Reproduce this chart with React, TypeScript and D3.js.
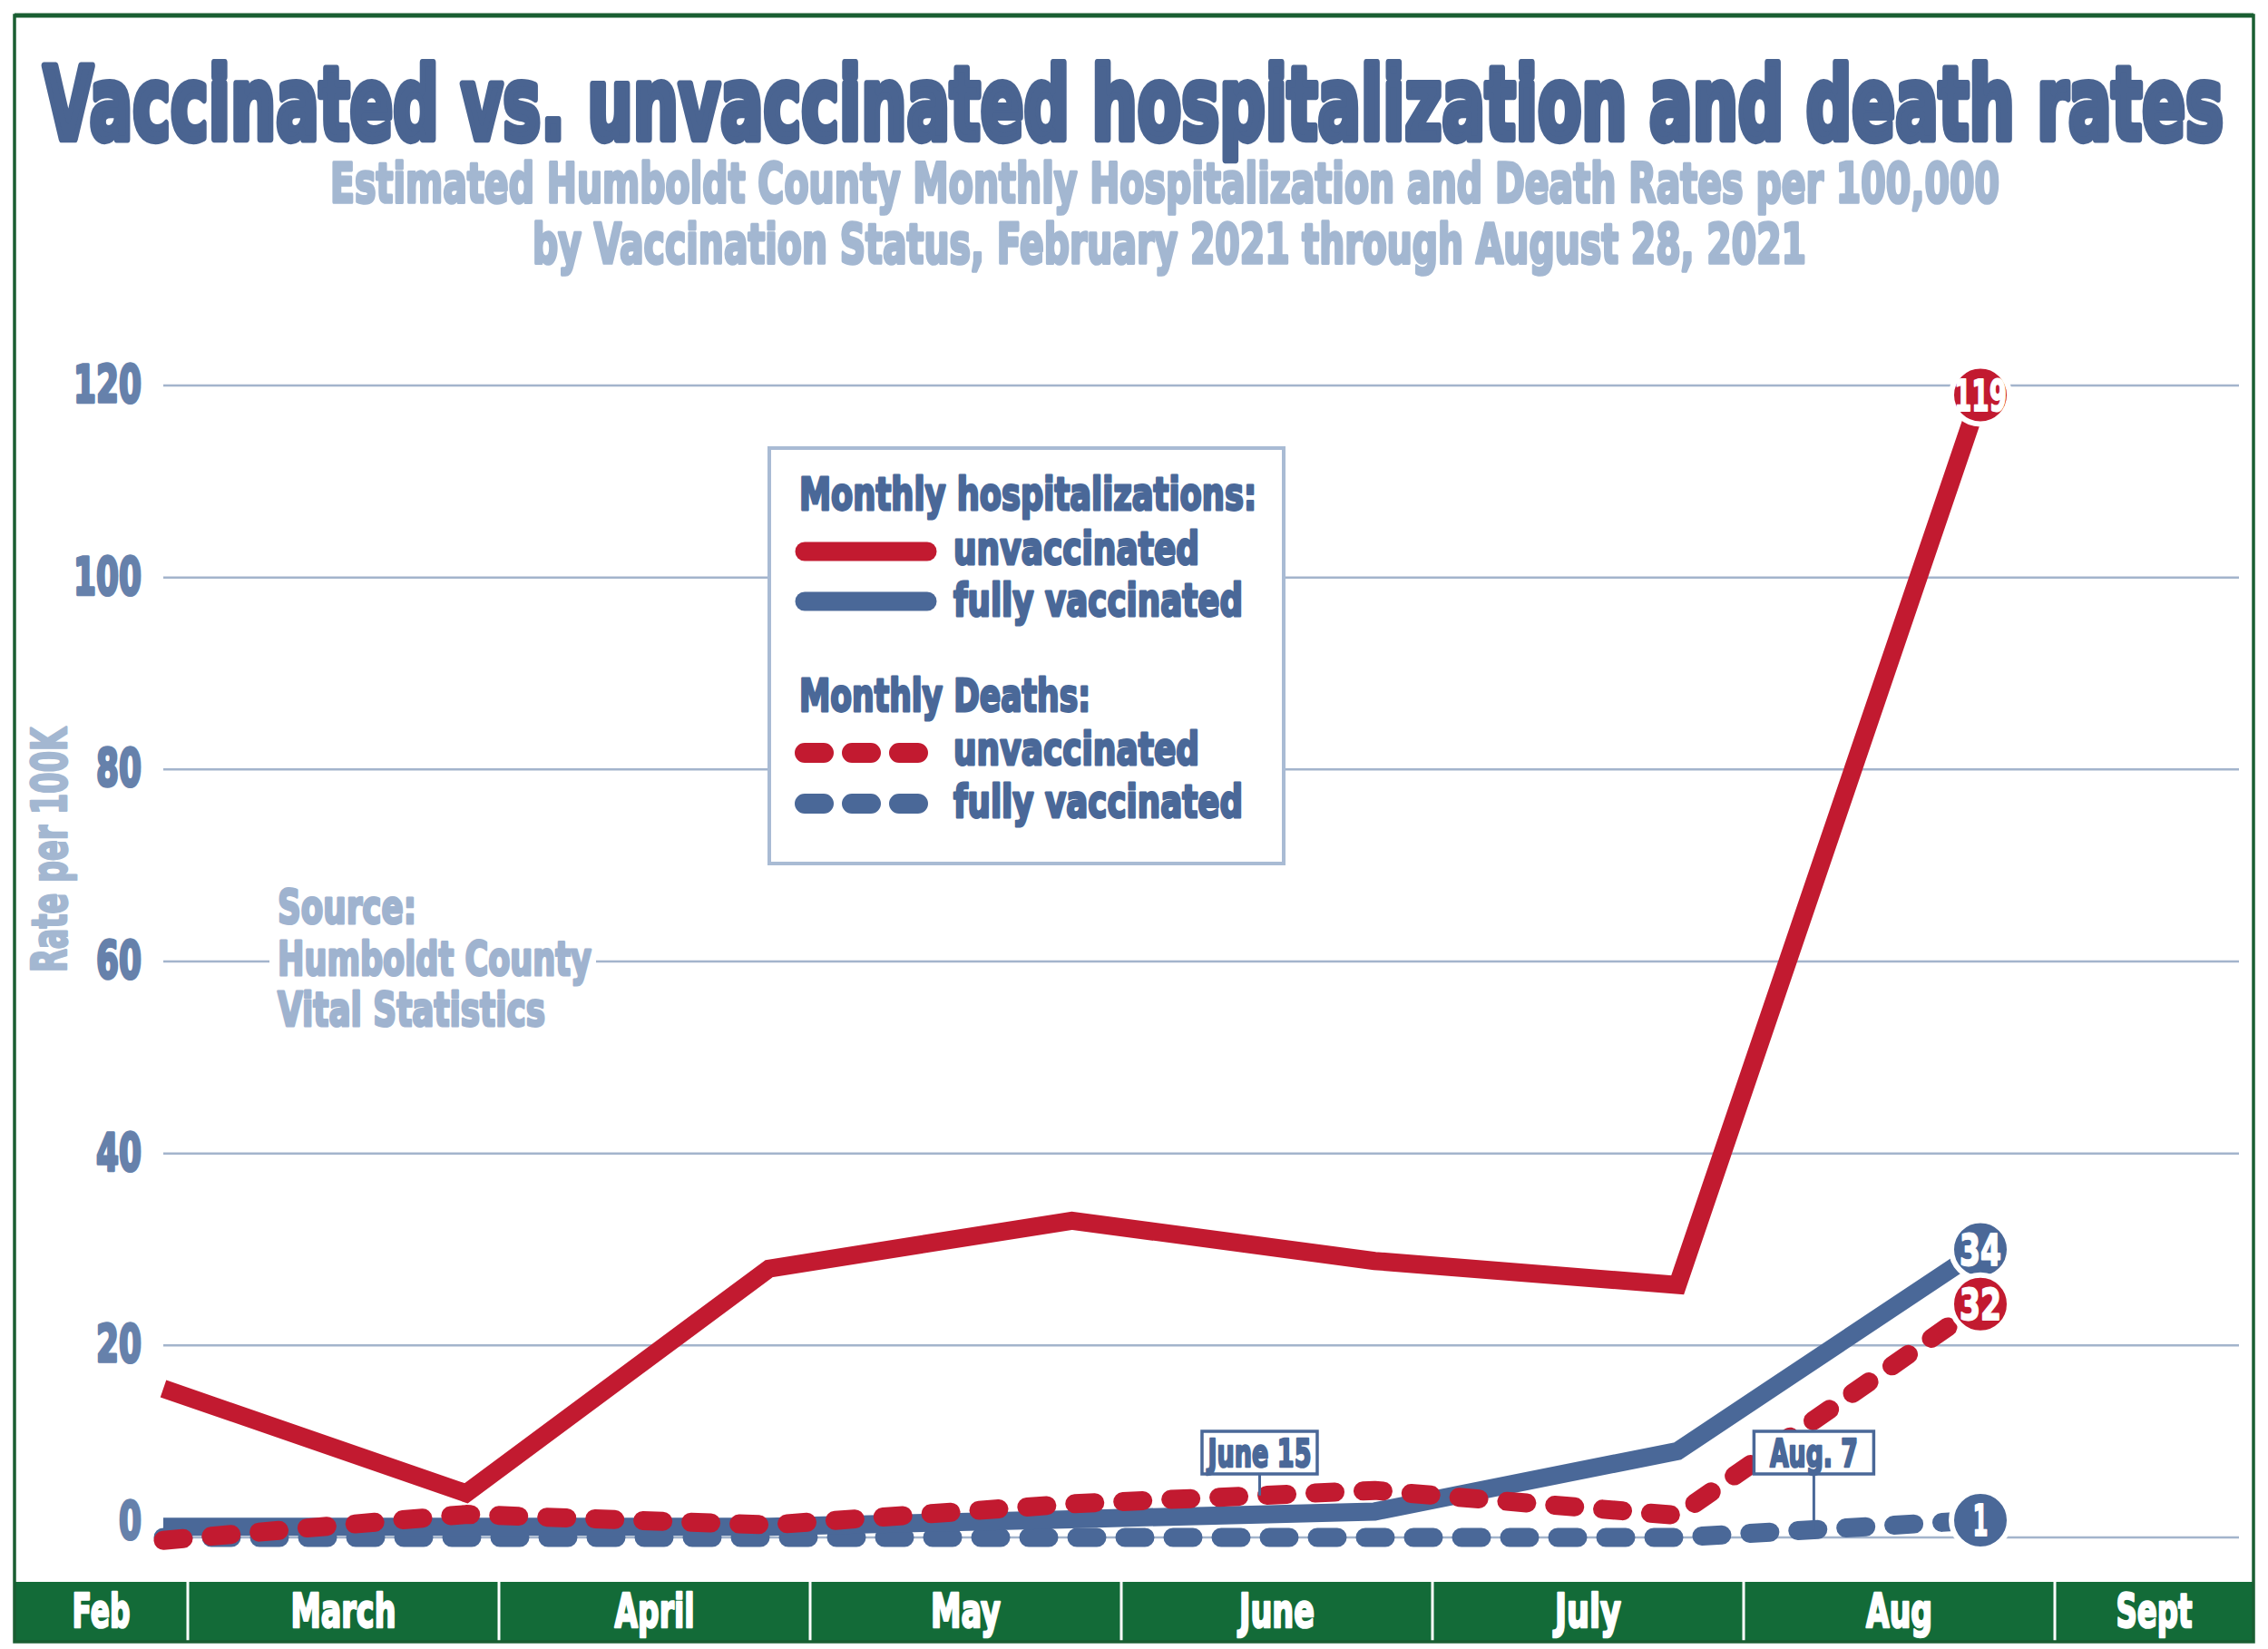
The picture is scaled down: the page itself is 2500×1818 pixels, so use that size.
import React from "react";
import * as d3 from "d3";

// ---------- data ----------
const dataMonths = ["Feb", "March", "April", "May", "June", "July", "Aug"];
const axisMonths = ["Feb", "March", "April", "May", "June", "July", "Aug", "Sept"];
const hospUnvax = [15.5, 4.6, 28, 33, 28.8, 26.3, 119];
const hospVax = [1.1, 1.1, 1.1, 1.9, 2.7, 9, 30];
const deathUnvax = [-0.3, 2.4, 1.3, 3.5, 4.9, 2.3, 24.3];
const deathVax = [0, 0, 0, 0, 0, 0, 1.8];
const endLabels = ["119", "34", "32", "1"]; // hospUnvax, hospVax, deathUnvax, deathVax
const yTicks = [0, 20, 40, 60, 80, 100, 120];
const annotationLabels = ["June 15", "Aug. 7"];
const annotationAt = [3.62, 5.45]; // position in month index
const annotationSeries = ["deathUnvax", "deathVax"];

const TITLE = "Vaccinated vs. unvaccinated hospitalization and death rates";
const SUB1 = "Estimated Humboldt County Monthly Hospitalization and Death Rates per 100,000";
const SUB2 = "by Vaccination Status,  February 2021 through August 28, 2021";
const SOURCE = ["Source:", "Humboldt County", "Vital Statistics"];

// ---------- style ----------
const RED = "#c21a30";
const BLUE = "#4a6898";
const TITLE_BLUE = "#4a6491";
const TICK_BLUE = "#6681ab";
const LIGHT = "#a3b7d1";
const GRID = "#a3b4cc";
const GREEN = "#136b38";
const FRAME = "#1a5e32";
const FONT = "'DejaVu Sans', 'Liberation Sans', Arial, sans-serif";

const monthLabelW: Record<string, number> = { Feb: 64, March: 116, April: 88, May: 77, June: 83, July: 73, Aug: 73, Sept: 84 };
const circleLabelW: Record<number, number> = { 1: 17, 2: 46, 3: 58 };
const annotationTextW: Record<string, number> = { "June 15": 114, "Aug. 7": 97 };
const annotationBoxW: Record<string, number> = { "June 15": 127, "Aug. 7": 132 };
const sourceW = [153, 346, 295];

type CTProps = {
  x: number; y: number; w: number; size: number; fill: string;
  anchor?: "start" | "middle" | "end"; children: React.ReactNode; weight?: number; transform?: string;
};
function CT({ x, y, w, size, fill, anchor = "start", children, weight = 0.05, transform }: CTProps) {
  return (
    <text
      x={x}
      y={y}
      fontSize={size}
      fill={fill}
      stroke={fill}
      strokeWidth={size * weight}
      strokeLinejoin="round"
      textAnchor={anchor}
      fontFamily={FONT}
      fontWeight="bold"
      textLength={w}
      lengthAdjust="spacingAndGlyphs"
      transform={transform}
    >
      {children}
    </text>
  );
}

export default function App() {
  const W = 2500;
  const H = 1818;
  const frameL = 16;
  const frameR = 2484;
  const frameT = 17;
  const barTop = 1744;
  const barBot = 1809;
  const gridX0 = 180;
  const gridX1 = 2468;

  const xp = d3.scalePoint<string>().domain(dataMonths).range([180, 2183]);
  const xi = d3.scaleLinear().domain([0, dataMonths.length - 1]).range([180, 2183]);
  const y = d3.scaleLinear().domain([0, 120]).range([1695, 425]);
  const band = d3.scaleBand<string>().domain(axisMonths).range([-136, 2608]);

  const seriesMap: Record<string, number[]> = { hospUnvax, hospVax, deathUnvax, deathVax };
  const series = [
    { key: "deathVax", values: deathVax, color: BLUE, dashed: true, label: endLabels[3] },
    { key: "hospVax", values: hospVax, color: BLUE, dashed: false, label: endLabels[1] },
    { key: "deathUnvax", values: deathUnvax, color: RED, dashed: true, label: endLabels[2] },
    { key: "hospUnvax", values: hospUnvax, color: RED, dashed: false, label: endLabels[0] },
  ];
  const line = d3
    .line<number>()
    .x((_, i) => xp(dataMonths[i])!)
    .y((d) => y(d));

  const valueAt = (vals: number[], t: number) => {
    const i = Math.floor(t);
    const f = t - i;
    return d3.interpolateNumber(vals[i], vals[Math.min(i + 1, vals.length - 1)])(f);
  };

  const lastX = xp(dataMonths[dataMonths.length - 1])!;

  return (
    <svg
      width={W}
      height={H}
      viewBox={`0 0 ${W} ${H}`}
      style={{ position: "absolute", left: 0, top: 0, background: "#fff" }}
    >
      <rect x={0} y={0} width={W} height={H} fill="#fff" />

      {/* titles */}
      <CT x={48} y={153} w={2403} size={110} fill={TITLE_BLUE} weight={0.075}>{TITLE}</CT>
      <CT x={364} y={223} w={1840} size={61} fill={LIGHT} weight={0.06}>{SUB1}</CT>
      <CT x={587} y={290} w={1404} size={61} fill={LIGHT} weight={0.06}>{SUB2}</CT>

      {/* gridlines */}
      {yTicks.map((t) => (
        <line key={t} x1={gridX0} x2={gridX1} y1={y(t)} y2={y(t)} stroke={GRID} strokeWidth={2.5} />
      ))}

      {/* y tick labels */}
      {yTicks.map((t) => {
        const s = String(t);
        return (
          <CT key={t} x={156} y={Math.min(y(t) + 19, y(0) + 2)} w={25 * s.length} size={57} fill={TICK_BLUE} anchor="end" weight={0.06}>
            {s}
          </CT>
        );
      })}

      {/* y axis title */}
      <CT x={0} y={0} w={270} size={53} fill={LIGHT} anchor="middle" transform="translate(73,937) rotate(-90)">
        Rate per 100K
      </CT>

      {/* source */}
      <rect x={297} y={985} width={360} height={160} fill="#fff" />
      {SOURCE.map((s, i) => (
        <CT key={s} x={306} y={1018 + i * 56.5} w={sourceW[i]} size={51} fill="#9fb3cf" weight={0.06}>
          {s}
        </CT>
      ))}

      {/* legend */}
      <rect x={848} y={494} width={567} height={458} fill="#fff" stroke="#a9bbd4" strokeWidth={4} />
      <CT x={881} y={562} w={504} size={49} fill={BLUE} weight={0.06}>Monthly hospitalizations:</CT>
      <line x1={887} x2={1022} y1={608} y2={608} stroke={RED} strokeWidth={21} strokeLinecap="round" />
      <CT x={1051} y={622} w={271} size={49} fill={BLUE} weight={0.06}>unvaccinated</CT>
      <line x1={887} x2={1022} y1={663} y2={663} stroke={BLUE} strokeWidth={21} strokeLinecap="round" />
      <CT x={1051} y={679} w={319} size={49} fill={BLUE} weight={0.06}>fully vaccinated</CT>
      <CT x={881} y={784} w={321} size={49} fill={BLUE} weight={0.06}>Monthly Deaths:</CT>
      <line x1={887} x2={1022} y1={830} y2={830} stroke={RED} strokeWidth={22} strokeLinecap="round" strokeDasharray="21 31" />
      <CT x={1051} y={843} w={271} size={49} fill={BLUE} weight={0.06}>unvaccinated</CT>
      <line x1={887} x2={1022} y1={886} y2={886} stroke={BLUE} strokeWidth={22} strokeLinecap="round" strokeDasharray="21 31" />
      <CT x={1051} y={901} w={319} size={49} fill={BLUE} weight={0.06}>fully vaccinated</CT>

      {/* data lines */}
      {series.map((s) => (
        <path
          key={s.key}
          d={line(s.values) || ""}
          fill="none"
          stroke={s.color}
          strokeWidth={s.dashed ? 21 : 20}
          strokeLinecap={s.dashed ? "round" : "butt"}
          strokeLinejoin={s.dashed ? "round" : "miter"}
          strokeDasharray={s.dashed ? "22 31" : undefined}
        />
      ))}

      {/* annotations */}
      {annotationLabels.map((lab, i) => {
        const cx = xi(annotationAt[i]);
        const v = valueAt(seriesMap[annotationSeries[i]], annotationAt[i]);
        const bw = annotationBoxW[lab];
        return (
          <g key={lab}>
            <line x1={cx} x2={cx} y1={1625} y2={y(v)} stroke={BLUE} strokeWidth={3} />
            <rect x={cx - bw / 2} y={1578} width={bw} height={47} fill="#fff" stroke={BLUE} strokeWidth={3.5} />
            <CT x={cx} y={1617} w={annotationTextW[lab]} size={43} fill={BLUE} anchor="middle" weight={0.06}>
              {lab}
            </CT>
          </g>
        );
      })}

      {/* end labels */}
      {series.map((s) => {
        const v = s.values[s.values.length - 1];
        return (
          <g key={s.key + "-lab"}>
            <circle cx={lastX} cy={y(v)} r={32} fill={s.color} stroke="#fff" strokeWidth={6} />
            <CT x={lastX} y={y(v) + 17} w={circleLabelW[s.label.length]} size={48} fill="#fff" anchor="middle" weight={0.04}>
              {s.label}
            </CT>
          </g>
        );
      })}

      {/* x axis bar */}
      {axisMonths.map((m) => {
        const b0 = Math.max(frameL, band(m)!);
        const b1 = Math.min(frameR, band(m)! + band.bandwidth());
        return (
          <g key={m}>
            <rect x={b0} y={barTop} width={b1 - b0} height={barBot - barTop} fill={GREEN} />
            <CT x={(b0 + b1) / 2} y={1794} w={monthLabelW[m]} size={51} fill="#fff" anchor="middle" weight={0.05}>
              {m}
            </CT>
          </g>
        );
      })}
      {axisMonths.slice(1).map((m) => (
        <line key={m + "-sep"} x1={band(m)!} x2={band(m)!} y1={barTop} y2={barBot} stroke="#fff" strokeWidth={3} />
      ))}

      {/* frame */}
      <rect x={frameL} y={frameT} width={frameR - frameL} height={barBot - frameT + 1} fill="none" stroke={FRAME} strokeWidth={3.5} />
      <line x1={frameL} x2={frameR} y1={frameT} y2={frameT} stroke={FRAME} strokeWidth={5} />
    </svg>
  );
}
